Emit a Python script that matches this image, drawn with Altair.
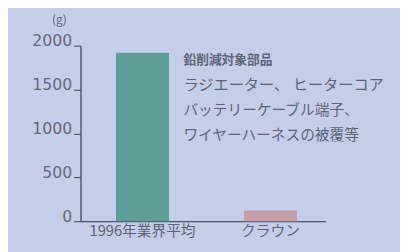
import altair as alt
import pandas as pd

categories = ["1996年業界平均", "クラウン"]
values = [1920, 120]
bar_colors = ["#5f9d98", "#c49ea8"]
y_ticks = [0, 500, 1000, 1500, 2000]
note_lines = ["鉛削減対象部品", "ラジエーター、 ヒーターコア", "バッテリーケーブル端子、", "ワイヤーハーネスの被覆等"]
note_sizes = [13, 15.5, 15, 15]

df = pd.DataFrame({"cat": categories, "val": values, "color": bar_colors})
notes = pd.DataFrame({"line": note_lines, "i": list(range(len(note_lines))),
                      "size": note_sizes})

FONT = "Noto Sans CJK JP"
AX = "#4c5670"
TXT = "#5d6479"

bars = alt.Chart(df).mark_bar().encode(
    x=alt.X("cat:N", sort=categories,
            scale=alt.Scale(paddingInner=0.585, paddingOuter=0.25, align=0.554),
            axis=alt.Axis(title=None, labelAngle=0, ticks=False, domainColor=AX, domainWidth=1.5,
                          labelFont=FONT, labelFontSize=15, labelColor=TXT, labelPadding=3)),
    y=alt.Y("val:Q", scale=alt.Scale(domain=[0, 2000], nice=False),
            axis=alt.Axis(values=y_ticks, format="d", title="(g)", titleAngle=0, titleX=-22, titleY=-27,
                          titleAlign="center", titleBaseline="middle", titleFont=FONT,
                          titleFontSize=12, titleFontWeight="normal", titleColor=TXT,
                          grid=False, domainColor=AX, domainWidth=1.5, tickColor=AX,
                          tickSize=7, tickWidth=1.2, labelFont="DejaVu Sans", labelFontSize=16,
                          labelColor="#626a80", labelPadding=2, labelBaseline="alphabetic")),
    color=alt.Color("color:N", scale=None),
)

text_light = alt.Chart(notes[1:]).mark_text(align="left", baseline="middle", font=FONT, color=TXT).encode(
    x=alt.value(105),
    y=alt.Y("i:O", scale=alt.Scale(domain=[0, 1, 2, 3], range=[15, 91], padding=0, paddingOuter=0), axis=None),
    text="line:N",
    size=alt.Size("size:Q", scale=None, legend=None),
)
text_bold = alt.Chart(notes[:1]).mark_text(align="left", baseline="middle", font=FONT, color=TXT,
                                            fontWeight="bold").encode(
    x=alt.value(105),
    y=alt.Y("i:O", scale=alt.Scale(domain=[0, 1, 2, 3], range=[15, 91], padding=0, paddingOuter=0), axis=None),
    text="line:N",
    size=alt.Size("size:Q", scale=None, legend=None),
)

chart = alt.layer(bars, text_light, text_bold).resolve_scale(y="independent").properties(
    width=250, height=179,
    background="#c5cee8",
    padding={"left": 74, "top": 36, "right": 76, "bottom": 29},
    autosize=alt.AutoSizeParams(type="none"),
).configure_view(stroke=None)

chart.save("out.html", embed_options={"renderer": "svg", "actions": False})
